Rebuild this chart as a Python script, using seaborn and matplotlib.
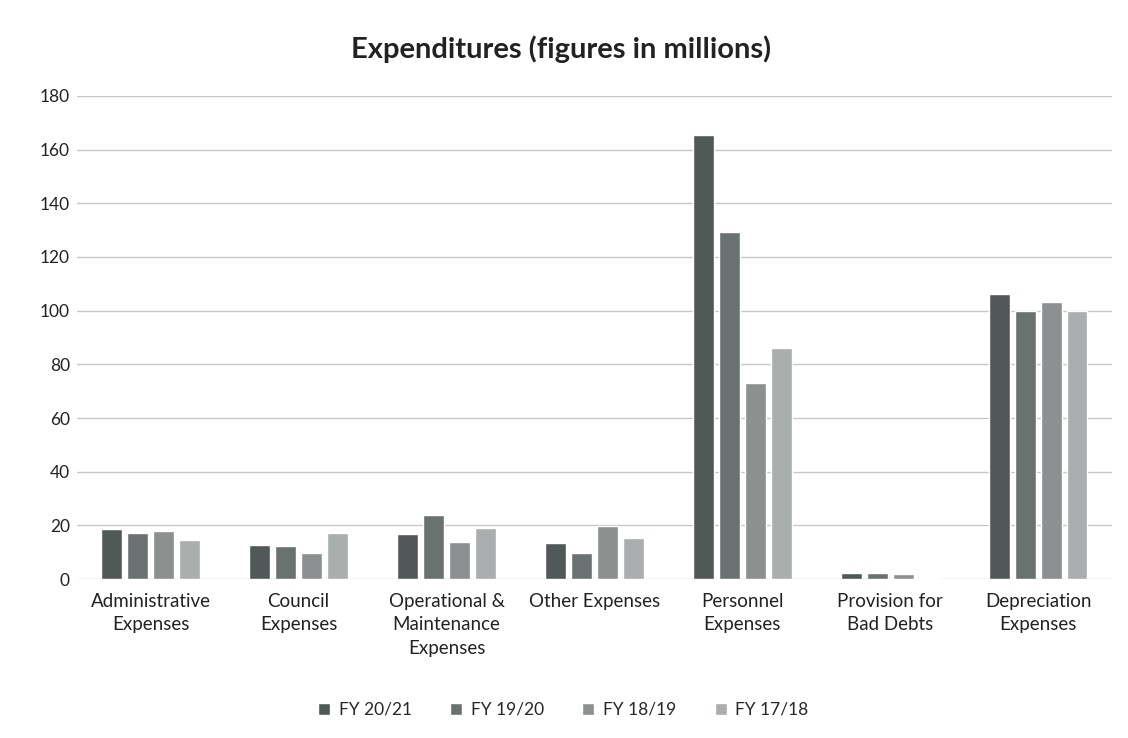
import matplotlib
matplotlib.use("Agg")
import matplotlib.pyplot as plt
import seaborn as sns
import pandas as pd

categories = ["Administrative\nExpenses", "Council\nExpenses", "Operational &\nMaintenance\nExpenses",
              "Other Expenses", "Personnel\nExpenses", "Provision for\nBad Debts", "Depreciation\nExpenses"]
years = ["FY 20/21", "FY 19/20", "FY 18/19", "FY 17/18"]
fy2021 = [18.5, 12.6, 16.8, 13.5, 165.4, 2.1, 106.2]
fy1920 = [17.0, 12.2, 23.8, 9.6, 129.4, 2.1, 100.0]
fy1819 = [17.9, 9.7, 13.7, 19.7, 72.9, 1.9, 103.3]
fy1718 = [14.6, 17.0, 19.0, 15.4, 86.1, 0.5, 100.0]
yticks = list(range(0, 181, 20))

series = [fy2021, fy1920, fy1819, fy1718]
rows = []
for y, vals in zip(years, series):
    for c, v in zip(categories, vals):
        rows.append({"Category": c, "Year": y, "Value": v})
df = pd.DataFrame(rows)

sns.set_theme(style="white")
plt.rcParams["font.family"] = ["Lato", "DejaVu Sans"]

fig = plt.figure(figsize=(11.28, 7.38), dpi=100)
ax = fig.add_axes([0.068, 0.2154, 0.918, 0.6546])
palette = ["#515858", "#6a7171", "#8d9090", "#abaeae"]
sns.barplot(data=df, x="Category", y="Value", hue="Year", hue_order=years,
            order=categories, palette=palette, width=0.7, gap=0.2, ax=ax,
            saturation=1, legend=True)
ax.set_ylim(0, 180)
ax.set_yticks(yticks)
ax.set_xlim(-0.5, 6.5)
ax.yaxis.grid(True, color="#c8c8c8", linewidth=1)
ax.set_axisbelow(True)
for s in ax.spines.values():
    s.set_visible(False)
ax.set_xlabel("")
ax.set_ylabel("")
ax.tick_params(axis="y", length=0, labelsize=12.5, colors="#222222", pad=5)
ax.tick_params(axis="x", length=0, labelsize=13.5, colors="#222222", pad=10)
for lbl in ax.get_xticklabels():
    lbl.set_linespacing(1.45)
fig.suptitle("Expenditures (figures in millions)", fontsize=21, fontweight="bold",
             color="#222222", x=0.497, y=0.952)
ax.legend(loc="center", bbox_to_anchor=(0.47, -0.271), ncol=4, frameon=False,
          fontsize=12.5, handlelength=0.7, handleheight=0.7, columnspacing=2.2,
          handletextpad=0.5)
fig.savefig("out.png", dpi=100, facecolor="white")
